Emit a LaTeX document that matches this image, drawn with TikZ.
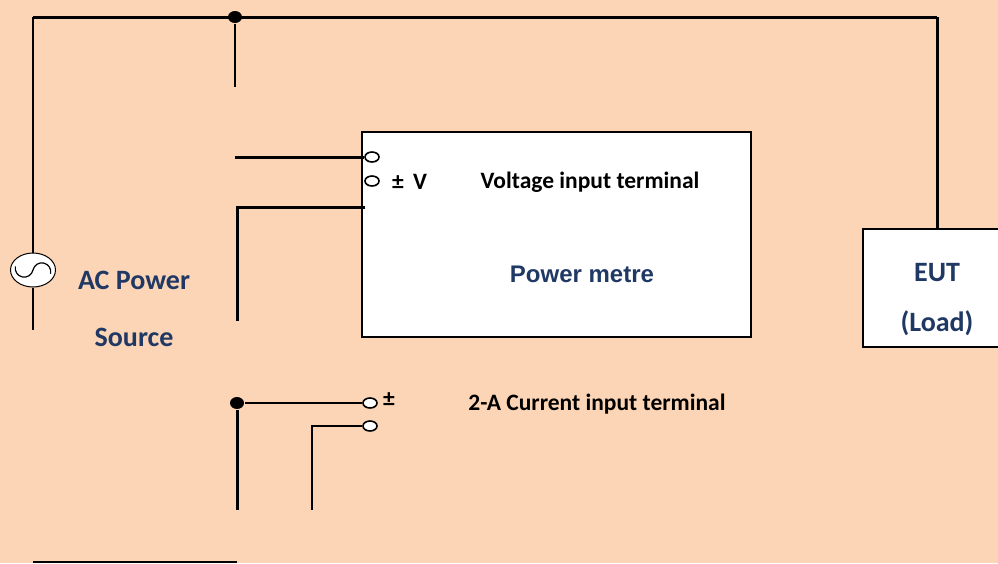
\documentclass[tikz,border=0pt]{standalone}
\usepackage{fontspec}
\setmainfont{Carlito}
\newfontfamily\arialfont{Liberation Sans}
\usetikzlibrary{shapes.geometric, positioning}
\definecolor{bgtan}{HTML}{FBD5B5}
\definecolor{labelblue}{HTML}{1F3864}

\begin{document}
\begin{tikzpicture}[x=1pt, y=-1pt, line width=2.5pt,
    term/.style={ellipse, draw, fill=white, line width=1.6pt, minimum width=14pt, minimum height=10pt, inner sep=0pt},
    jdot/.style={ellipse, fill=black, inner sep=0pt, minimum width=14pt, minimum height=12pt},
    unitbox/.style={draw, fill=white, line width=2.5pt, inner sep=0pt},
    lbl/.style={font=\bfseries\fontsize{23.5}{28}\selectfont, inner sep=0pt},
    bluelbl/.style={lbl, font=\bfseries\fontsize{28}{32}\selectfont, text=labelblue}]

    % Background
    \fill[bgtan] (0,0) rectangle (998,563);
    \useasboundingbox (0,0) rectangle (998,563);

    % Power metre and load
    \node[unitbox, minimum width=389pt, minimum height=205pt] (pm) at (556.5,234.5) {};
    \node[unitbox, minimum width=148pt, minimum height=118pt] (eut) at (937,288) {};

    % AC source
    \node[ellipse, draw, fill=white, line width=1pt, minimum width=45pt, minimum height=34pt, inner sep=0pt] (ac) at (33,270) {};
    \draw[line width=1.2pt, shift={(ac.center)}, rotate=-12] (-18,0) arc (180:0:9) arc (180:360:9);

    % Junctions and terminals
    \node[jdot] (jtop) at (235,17) {};
    \node[jdot] (jcur) at (237,403) {};
    \node[term] (v1) at (372,157) {};
    \node[term] (v2) at (372,181) {};
    \node[term] (i1) at (370,403) {};
    \node[term] (i2) at (370,426) {};

    % Wire ends
    \coordinate (tl) at (33,17);
    \coordinate (tr) at (937,17);
    \coordinate (acend) at (33,330);
    \coordinate (stub) at (235,87);
    \coordinate (v1w) at (235,157);
    \coordinate (vlo) at (365,207);
    \coordinate (vlow) at (237,207);
    \coordinate (vdown) at (237,321);
    \coordinate (jdown) at (237,510);
    \coordinate (i2w) at (312,426);
    \coordinate (i2down) at (312,510);
    \coordinate (botl) at (33,562);
    \coordinate (botr) at (237,562);

    % Wires
    \draw[line width=3pt] (tl) -- (tr);
    \draw[line width=2pt] (ac.north) -- (tl);
    \draw[line width=3pt] (tr) -- (eut.north);
    \draw[line width=2pt] (ac.south) -- (acend);
    \draw[line width=2pt] (jtop) -- (stub);
    \draw[line width=3pt] (v1w) -- (v1.west);
    \draw[line width=3pt] (vlo) -- (vlow) -- (vdown);
    \draw (jcur) -- (i1.west);
    \draw[line width=3pt] (jcur) -- (jdown);
    \draw (i2.west) -- (i2w) -- (i2down);
    \draw (botl) -- (botr);

    % Labels
    \node[bluelbl] (acname) at (134,280) {AC Power};
    \node[bluelbl] (acname2) at (134,337) {Source};
    \node[lbl] (vsign) at (398,183) {±};
    \node[lbl] (vv) at (420,182) {V};
    \node[lbl] (vterm) at (590,182) {Voltage input terminal};
    \node[bluelbl, font=\arialfont\bfseries\fontsize{24}{28}\selectfont] (pmname) at (582,274) {Power metre};
    \node[bluelbl] (eutname) at (937,273) {EUT};
    \node[bluelbl] (eutload) at (937,323) {(Load)};
    \node[lbl] (isign) at (389,400) {±};
    \node[lbl] (iterm) at (597,404) {2-A Current input terminal};
\end{tikzpicture}
\end{document}
